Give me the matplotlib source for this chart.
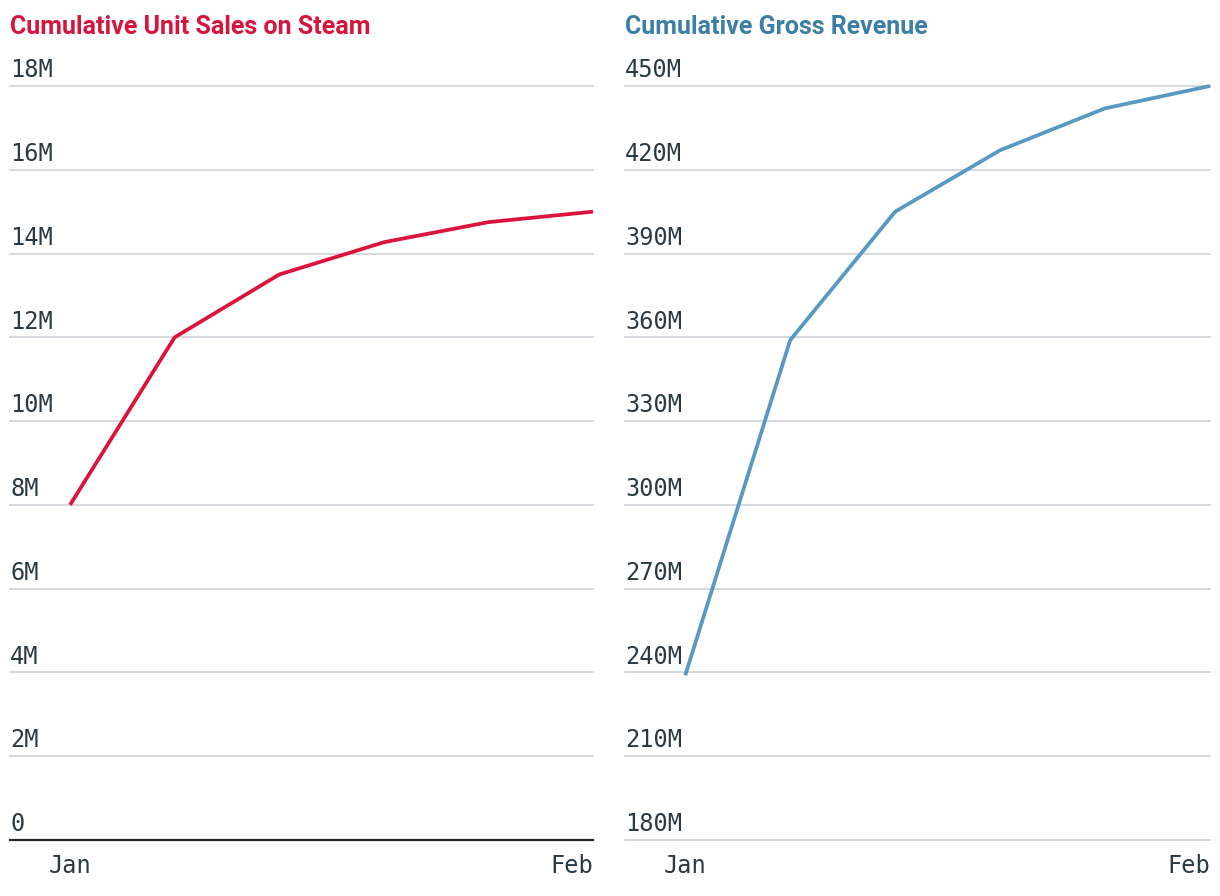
import numpy as np
import matplotlib
matplotlib.use("Agg")
import matplotlib.pyplot as plt

# data (six evenly spaced points from Jan to Feb)
points = [0, 1, 2, 3, 4, 5]
units_m = [8.0, 12.0, 13.5, 14.27, 14.75, 15.0]
revenue_m = [239, 359, 405, 427, 442, 450]

x_ticks = [0, 5]
x_labels = ["Jan", "Feb"]

units_ticks = [0, 2, 4, 6, 8, 10, 12, 14, 16, 18]
units_tick_labels = ["0", "2M", "4M", "6M", "8M", "10M", "12M", "14M", "16M", "18M"]
rev_ticks = [180, 210, 240, 270, 300, 330, 360, 390, 420, 450]
rev_tick_labels = ["180M", "210M", "240M", "270M", "300M", "330M", "360M", "390M", "420M", "450M"]

txt_color = "#2b3a42"
grid_color = "#d2d6da"
mono = "DejaVu Sans Mono"
title_font = "Roboto"

fig = plt.figure(figsize=(12.2, 8.96), dpi=100)
ax1 = fig.add_axes([10 / 1220, 1 - 840 / 896, 583 / 1220, 754 / 896])
ax2 = fig.add_axes([625 / 1220, 1 - 840 / 896, 585 / 1220, 754 / 896])


def style(ax, ticks, labels, ymin, ymax, zero_line):
    ax.set_xlim(-0.574, 5)
    ax.set_ylim(ymin, ymax)
    for s in ax.spines.values():
        s.set_visible(False)
    ax.set_xticks([])
    ax.set_yticks([])
    for i, (t, lab) in enumerate(zip(ticks, labels)):
        if zero_line and i == 0:
            ax.axhline(t, color="#222222", lw=1.6, zorder=1)
        else:
            ax.axhline(t, color=grid_color, lw=1.3, zorder=1)
        ax.text(0, t + (ymax - ymin) * 0.005, lab, transform=ax.get_yaxis_transform(),
                ha="left", va="bottom", fontsize=17, family=mono, color=txt_color)
    ax.text(x_ticks[0], -0.035, x_labels[0], transform=ax.get_xaxis_transform(),
            ha="center", va="center", fontsize=17, family=mono, color=txt_color)
    ax.text(x_ticks[1], -0.035, x_labels[1], transform=ax.get_xaxis_transform(),
            ha="right", va="center", fontsize=17, family=mono, color=txt_color)


style(ax1, units_ticks, units_tick_labels, 0, 18, True)
style(ax2, rev_ticks, rev_tick_labels, 180, 450, False)

ax1.plot(points, units_m, color="#dc143c", lw=2.7, zorder=3, solid_capstyle="butt")
ax2.plot(points, revenue_m, color="#5799c2", lw=2.7, zorder=3, solid_capstyle="butt")
for ax in (ax1, ax2):
    for line in ax.lines:
        line.set_clip_on(False)

fig.text(10 / 1220, 1 - 27 / 896, "Cumulative Unit Sales on Steam", ha="left", va="center",
         fontsize=18, fontweight="bold", family=title_font, color="#d7143c")
fig.text(625 / 1220, 1 - 27 / 896, "Cumulative Gross Revenue", ha="left", va="center",
         fontsize=18, fontweight="bold", family=title_font, color="#3b7ea6")

fig.savefig("out.png", dpi=100, facecolor="white")
